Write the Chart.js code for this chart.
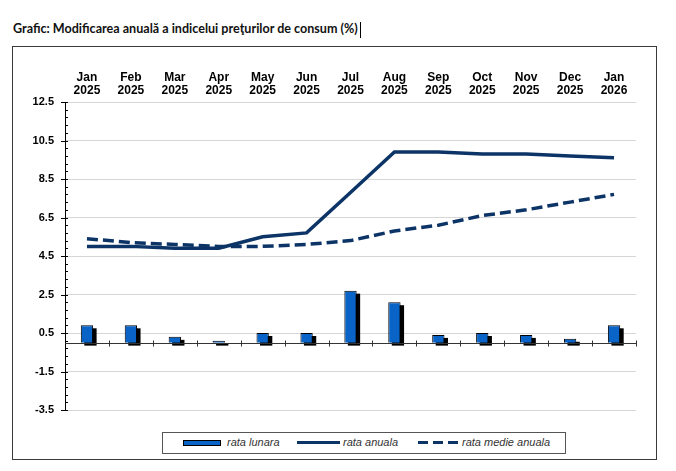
<!DOCTYPE html>
<html lang="ro">
<head>
    <meta charset="UTF-8">
    <title>Grafic IPC</title>
    <script src="https://cdn.jsdelivr.net/npm/chart.js"></script>
    <style>
        html, body {
            margin: 0;
            padding: 0;
            background: #ffffff;
        }
        body {
            width: 676px;
            height: 471px;
            position: relative;
            overflow: hidden;
        }
        #titlu {
            position: absolute;
            left: 13px;
            top: 21px;
            font-family: Lato, "Liberation Sans", sans-serif;
            font-weight: bold;
            font-size: 12.5px;
            color: #111;
            white-space: nowrap;
            transform-origin: left center;
        }
        #cursor {
            position: absolute;
            left: 360px;
            top: 22px;
            width: 1px;
            height: 16px;
            background: #000;
        }
        #cadru {
            position: absolute;
            left: 12px;
            top: 46px;
            width: 643px;
            height: 412px;
            border: 1px solid #3a3a3a;
        }
        #grafic {
            position: absolute;
            left: 0;
            top: 0;
        }
        #legenda {
            position: absolute;
            left: 162px;
            top: 432px;
            width: 402px;
            height: 20px;
            border: 1px solid #555;
            background: #fff;
        }
        .simbol, .eticheta {
            position: absolute;
        }
        .eticheta {
            font-family: "Liberation Sans", Arial, sans-serif;
            font-style: italic;
            font-size: 11px;
            color: #333;
            top: 3px;
        }
    </style>
</head>
<body>
    <div id="titlu">Grafic: Modificarea anuală a indicelui preţurilor de consum (%)</div>
    <div id="cursor"></div>
    <div id="cadru"></div>
    <canvas id="grafic" width="676" height="471"></canvas>

    <div id="legenda">
        <div class="simbol" style="left:20px; top:7px; width:36px; height:4px; background:#0a64c8; border:1px solid #000;"></div>
        <div class="eticheta" style="left:64px;">rata lunara</div>
        <div class="simbol" style="left:134px; top:8px; width:43px; height:3px; background:#0c3466;"></div>
        <div class="eticheta" style="left:180px;">rata anuala</div>
        <div class="simbol" style="left:255px; top:8px; width:40px; height:3px; background:repeating-linear-gradient(90deg, #0c3466 0 10px, transparent 10px 15px);"></div>
        <div class="eticheta" style="left:299px;">rata medie anuala</div>
    </div>

    <script>
        // Date
        const luni = [
            ['Jan', '2025'], ['Feb', '2025'], ['Mar', '2025'], ['Apr', '2025'],
            ['May', '2025'], ['Jun', '2025'], ['Jul', '2025'], ['Aug', '2025'],
            ['Sep', '2025'], ['Oct', '2025'], ['Nov', '2025'], ['Dec', '2025'],
            ['Jan', '2026']
        ];
        const rataLunara = [0.9, 0.9, 0.3, 0.1, 0.5, 0.5, 2.7, 2.1, 0.4, 0.5, 0.4, 0.2, 0.9];
        const rataAnuala = [5.0, 5.0, 4.9, 4.9, 5.5, 5.7, 7.8, 9.9, 9.9, 9.8, 9.8, 9.7, 9.6];
        const rataMedie = [5.4, 5.2, 5.1, 5.0, 5.0, 5.1, 5.3, 5.8, 6.1, 6.6, 6.9, 7.3, 7.7];
        const yTicks = [-3.5, -1.5, 0.5, 2.5, 4.5, 6.5, 8.5, 10.5, 12.5];

        const albastru = '#0a64c8';
        const bleumarin = '#0c3466';

        // Titlul: ajustare la latimea din original
        const titlu = document.getElementById('titlu');
        titlu.style.transform = 'scaleX(' + (345 / titlu.offsetWidth) + ')';

        // Umbra barelor, axa zero si gradatiile
        const decor = {
            id: 'decor',
            beforeDatasetDraw(chart, args) {
                if (args.index !== 0) return;
                const ctx = chart.ctx;
                ctx.save();
                ctx.fillStyle = '#000';
                args.meta.data.forEach(bar => {
                    const p = bar.getProps(['x', 'y', 'base', 'width'], true);
                    const top = Math.min(p.y, p.base);
                    const h = Math.abs(p.base - p.y);
                    ctx.fillRect(p.x - p.width / 2 + 3.5, top + 3, p.width, h);
                });
                ctx.restore();
            },
            afterDraw(chart) {
                const ctx = chart.ctx;
                const y = chart.scales.y;
                const area = chart.chartArea;
                ctx.save();
                ctx.strokeStyle = '#000';
                ctx.lineWidth = 1;
                // gradatii axa y
                for (let k = 0; k <= 40; k++) {
                    const v = -3.5 + k * 0.4;
                    const py = Math.round(y.getPixelForValue(v)) + 0.5;
                    ctx.beginPath();
                    if (k % 5 === 0) {
                        ctx.moveTo(area.left - 4, py);
                    } else {
                        ctx.moveTo(area.left, py);
                    }
                    ctx.lineTo(area.left + 3, py);
                    ctx.stroke();
                }
                ctx.restore();
            },
            afterDatasetsDraw(chart) {
                // axa zero cu gradatii intre luni
                const ctx = chart.ctx;
                const y = chart.scales.y;
                const area = chart.chartArea;
                ctx.save();
                ctx.strokeStyle = '#333';
                ctx.lineWidth = 1;
                const y0 = Math.round(y.getPixelForValue(0)) + 0.5;
                ctx.beginPath();
                ctx.moveTo(area.left, y0);
                ctx.lineTo(area.right, y0);
                ctx.stroke();
                const w = (area.right - area.left) / luni.length;
                for (let i = 1; i <= luni.length; i++) {
                    const px = Math.round(area.left + i * w) + 0.5;
                    ctx.beginPath();
                    ctx.moveTo(px, y0 - 3);
                    ctx.lineTo(px, y0 + 3);
                    ctx.stroke();
                }
                ctx.restore();
            }
        };

        const ctx = document.getElementById('grafic').getContext('2d');
        new Chart(ctx, {
            type: 'bar',
            data: {
                labels: luni,
                datasets: [
                    {
                        label: 'rata lunara',
                        data: rataLunara,
                        backgroundColor: albastru,
                        borderColor: '#000',
                        borderWidth: 1,
                        barPercentage: 0.28,
                        categoryPercentage: 1,
                        order: 3
                    },
                    {
                        type: 'line',
                        label: 'rata anuala',
                        data: rataAnuala,
                        borderColor: bleumarin,
                        borderWidth: 3.5,
                        pointRadius: 0,
                        tension: 0,
                        fill: false,
                        order: 1
                    },
                    {
                        type: 'line',
                        label: 'rata medie anuala',
                        data: rataMedie,
                        borderColor: bleumarin,
                        borderWidth: 3.5,
                        borderDash: [11, 5],
                        pointRadius: 0,
                        tension: 0,
                        fill: false,
                        order: 2
                    }
                ]
            },
            options: {
                responsive: false,
                animation: false,
                layout: {
                    padding: { top: 62, left: 0, right: 40, bottom: 61 }
                },
                plugins: {
                    legend: { display: false },
                    tooltip: { enabled: false }
                },
                scales: {
                    x: {
                        position: 'top',
                        grid: { display: false, drawTicks: false },
                        border: { display: false },
                        ticks: {
                            color: '#000',
                            padding: 5,
                            maxRotation: 0,
                            autoSkip: false,
                            font: { family: '"Liberation Sans", Arial, sans-serif', size: 12, weight: 'bold', lineHeight: 1.05 }
                        },
                        afterFit(scale) {
                            scale.height = 40;
                        }
                    },
                    y: {
                        min: -3.5,
                        max: 12.5,
                        afterBuildTicks(scale) {
                            scale.ticks = yTicks.map(v => ({ value: v }));
                        },
                        grid: { color: '#d6d6d6', lineWidth: 1, drawTicks: false },
                        border: { display: true, color: '#000', width: 1 },
                        ticks: {
                            color: '#000',
                            padding: 11,
                            callback: v => v.toFixed(1),
                            font: { family: '"Liberation Sans", Arial, sans-serif', size: 11, weight: 'bold' }
                        },
                        afterFit(scale) {
                            scale.width = 65;
                        }
                    }
                }
            },
            plugins: [decor]
        });
    </script>
</body>
</html>
